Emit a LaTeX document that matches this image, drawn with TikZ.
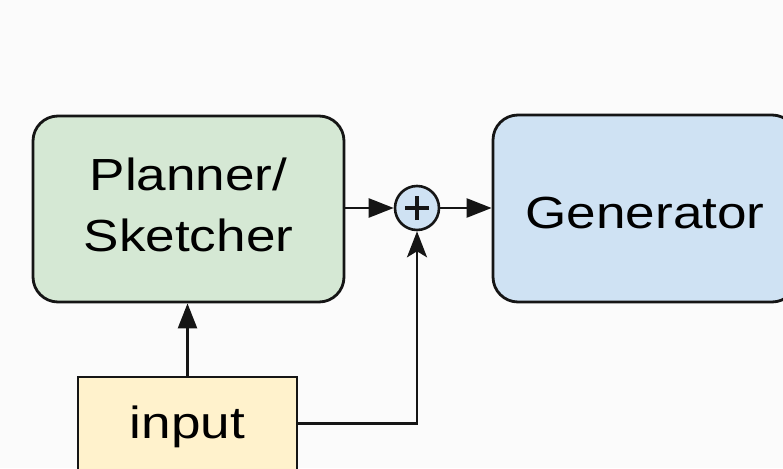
\documentclass[tikz,border=0pt]{standalone}
\usepackage{fontspec}
\setmainfont{Liberation Sans}
\usetikzlibrary{arrows.meta}
\definecolor{planfill}{HTML}{D5E8D4}
\definecolor{genfill}{HTML}{CFE2F3}
\definecolor{inpfill}{HTML}{FFF2CC}
\definecolor{ink}{HTML}{151515}
% horizontally widened text, optionally lowered below the node centre
\newcommand{\widetext}[1]{\scalebox{1.18}[1]{#1}}
\newcommand{\lowered}[2]{\raisebox{-#1}[0pt][0pt]{\widetext{#2}}}
\tikzset{
  blockbox/.style={draw=ink, line width=2.8pt, rounded corners=25pt,
    inner sep=0pt, font=\fontsize{45}{61}\selectfont},
  plainbox/.style={draw=ink, line width=2.6pt, inner sep=0pt,
    font=\fontsize{45}{61}\selectfont},
  sumnode/.style={circle, draw=ink, line width=2.6pt, fill=genfill,
    minimum size=44pt, inner sep=0pt},
  link/.style={draw=ink, line width=2.5pt,
    -{Triangle[length=25pt,width=19pt]}},
  linkb/.style={draw=ink, line width=2.5pt,
    -{Stealth[length=26pt,width=20pt,inset=6pt]}}
}
\begin{document}
\begin{tikzpicture}[x=1pt,y=-1pt]
  \useasboundingbox[fill=white!98.5!black] (0,0) rectangle (783,468);

  % blocks
  \node[blockbox, fill=planfill, minimum width=311pt, minimum height=186pt]
    (plan) at (188.5,209)
    {\widetext{\begin{tabular}{@{}c@{}}Planner/\\Sketcher\end{tabular}}};
  \node[blockbox, fill=genfill, minimum width=304pt, minimum height=187pt]
    (gen) at (645,208.5) {\lowered{19.5pt}{Generator}};
  \node[plainbox, fill=inpfill, minimum width=219pt, minimum height=93pt]
    (inp) at (187.5,423.5) {\lowered{14.5pt}{input}};

  % summing junction
  \node[sumnode] (sum) at (417,208) {};
  \draw[ink, line width=4pt] ([xshift=-12pt]sum.center) -- ([xshift=12pt]sum.center);
  \draw[ink, line width=4pt] ([yshift=-12pt]sum.center) -- ([yshift=12pt]sum.center);

  % connectors
  \draw[link] (plan.east |- sum) -- (sum.west);
  \draw[link] (sum.east) -- (gen.west |- sum);
  \draw[link] (inp.north) -- (inp.north |- plan.south);
  \draw[linkb] (inp.east) -| (sum.south);
\end{tikzpicture}
\end{document}
